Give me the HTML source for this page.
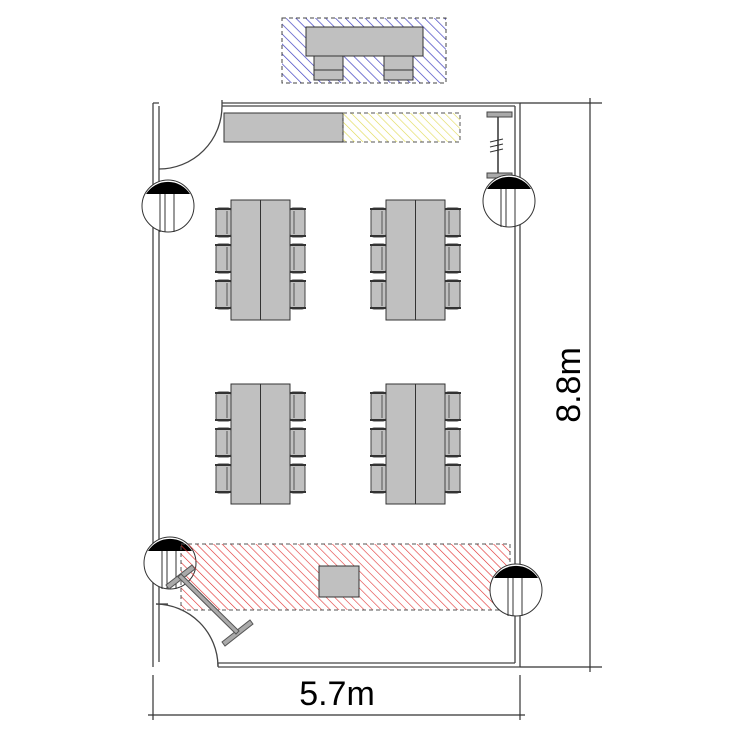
<!DOCTYPE html>
<html><head><meta charset="utf-8"><style>html,body{margin:0;padding:0;background:#fff}svg{display:block}</style></head>
<body>
<svg width="750" height="750" viewBox="0 0 750 750" xmlns="http://www.w3.org/2000/svg">
<defs>
<pattern id="hb" width="7" height="7" patternUnits="userSpaceOnUse" patternTransform="rotate(-45)"><line x1="0" y1="0" x2="0" y2="7" stroke="#4040c0" stroke-width="1.4"/></pattern>
<pattern id="hr" width="6" height="6" patternUnits="userSpaceOnUse" patternTransform="rotate(-45)"><line x1="0" y1="0" x2="0" y2="6" stroke="#e03030" stroke-width="1.2"/></pattern>
<pattern id="hy" width="6" height="6" patternUnits="userSpaceOnUse" patternTransform="rotate(-45)"><line x1="0" y1="0" x2="0" y2="6" stroke="#e0d850" stroke-width="1.2"/></pattern>
<g id="chL"><rect x="0" y="0" width="15" height="29" fill="#c0c0c0" stroke="#444" stroke-width="1" rx="3"/><line x1="-1" y1="1" x2="15" y2="1" stroke="#333" stroke-width="2"/><line x1="-1" y1="28" x2="15" y2="28" stroke="#333" stroke-width="2"/><line x1="11" y1="3" x2="11" y2="26" stroke="#555"/></g>
<g id="chR"><rect x="0" y="0" width="15" height="29" fill="#c0c0c0" stroke="#444" stroke-width="1" rx="3"/><line x1="0" y1="1" x2="16" y2="1" stroke="#333" stroke-width="2"/><line x1="0" y1="28" x2="16" y2="28" stroke="#333" stroke-width="2"/><line x1="4" y1="3" x2="4" y2="26" stroke="#555"/></g>
<g id="grp">
<rect x="0" y="0" width="59" height="120" fill="#c0c0c0" stroke="#333"/>
<line x1="29.5" y1="0" x2="29.5" y2="120" stroke="#333"/>
<use href="#chL" x="-15" y="8"/><use href="#chL" x="-15" y="44"/><use href="#chL" x="-15" y="80"/>
<use href="#chR" x="59" y="8"/><use href="#chR" x="59" y="44"/><use href="#chR" x="59" y="80"/>
</g>
<g id="col"><circle cx="0" cy="0" r="26" fill="#fff" stroke="#333"/><path d="M-22,-12 A26,26 0 0 1 22,-12 Z" fill="#000"/><line x1="-8" y1="-12" x2="-8" y2="26" stroke="#333"/><line x1="-3" y1="-12" x2="-3" y2="26" stroke="#333"/><line x1="6" y1="-12" x2="6" y2="26" stroke="#333"/></g>
</defs>
<rect x="282" y="18" width="164" height="65" fill="url(#hb)" stroke="#444" stroke-dasharray="4,3"/>
<rect x="306" y="27" width="117" height="29" fill="#c0c0c0" stroke="#333"/>
<rect x="314" y="56" width="29" height="24" fill="#c0c0c0" stroke="#333"/><line x1="314" y1="70" x2="343" y2="70" stroke="#333"/>
<rect x="384" y="56" width="29" height="24" fill="#c0c0c0" stroke="#333"/><line x1="384" y1="70" x2="413" y2="70" stroke="#333"/>
<g stroke="#444" stroke-width="1.3" fill="none">
<line x1="153" y1="103" x2="153" y2="667"/><line x1="159" y1="106" x2="159" y2="662"/>
<line x1="153" y1="103" x2="159" y2="103"/>
<line x1="222" y1="103" x2="520" y2="103"/><line x1="222" y1="106" x2="515" y2="106"/><line x1="222" y1="100" x2="222" y2="106"/>
<line x1="520" y1="103" x2="520" y2="667"/><line x1="515" y1="106" x2="515" y2="663"/>
<line x1="218" y1="667" x2="520" y2="667"/><line x1="218" y1="663" x2="515" y2="663"/><line x1="218" y1="663" x2="218" y2="667"/>
<path d="M222,106 A63,63 0 0 1 159,169"/>
<path d="M156,604 A63,63 0 0 1 218,666"/><line x1="156" y1="604" x2="168" y2="604"/>
</g>
<rect x="224" y="113" width="119" height="29" fill="#c0c0c0" stroke="#333"/>
<rect x="343" y="113" width="117" height="29" fill="url(#hy)" stroke="#555" stroke-dasharray="4,3"/>
<rect x="487" y="112" width="25" height="5" fill="#aaa" stroke="#444"/>
<rect x="487" y="173" width="25" height="5" fill="#aaa" stroke="#444"/>
<line x1="498" y1="117" x2="498" y2="173" stroke="#333" stroke-width="1.5"/>
<g stroke="#333"><line x1="490" y1="142" x2="503" y2="139"/><line x1="490" y1="147" x2="503" y2="144"/><line x1="490" y1="152" x2="503" y2="149"/></g>
<use href="#grp" x="231" y="200"/><use href="#grp" x="386" y="200"/>
<use href="#grp" x="231" y="384"/><use href="#grp" x="386" y="384"/>
<use href="#col" x="168" y="206"/><use href="#col" x="509" y="201"/>
<use href="#col" x="170" y="563"/>
<rect x="181" y="544" width="329" height="66" fill="url(#hr)" stroke="#555" stroke-dasharray="4,3"/>
<use href="#col" x="516" y="590"/>
<rect x="319" y="566" width="40" height="31" fill="#c0c0c0" stroke="#333"/>
<g fill="#aaa" stroke="#555">
<polygon points="166,585 192,565 195,569 169,589"/>
<polygon points="222,642 250,620 253,624 225,646"/>
<polygon points="178,577 181,574 239,631 236,634"/>
</g>
<g stroke="#333" stroke-width="1.2">
<line x1="520" y1="103" x2="602" y2="103"/><line x1="520" y1="667" x2="602" y2="667"/>
<line x1="590" y1="98" x2="590" y2="672"/>
<line x1="153" y1="675" x2="153" y2="720"/><line x1="520" y1="675" x2="520" y2="720"/>
<line x1="148" y1="715" x2="525" y2="715"/>
</g>
<text x="337" y="705" font-family="Liberation Sans, sans-serif" font-size="34" text-anchor="middle" fill="#000">5.7m</text>
<text transform="translate(580,385) rotate(-90)" font-family="Liberation Sans, sans-serif" font-size="34" text-anchor="middle" fill="#000">8.8m</text>
</svg>
</body></html>
